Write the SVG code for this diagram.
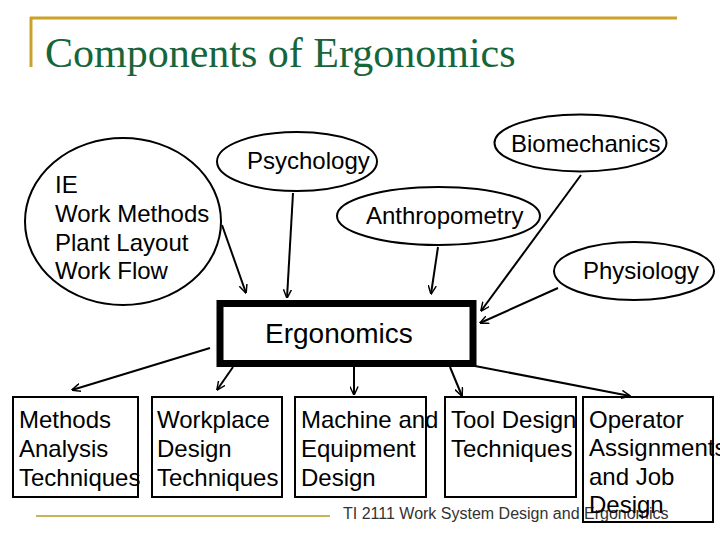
<svg xmlns="http://www.w3.org/2000/svg" width="720" height="540" viewBox="0 0 720 540">
<style>
.t{font-family:"Liberation Sans",Arial,sans-serif;font-size:24px;fill:#000}
.node{fill:#fff;stroke:#000;stroke-width:2}
.conn line{stroke:#000;stroke-width:2;marker-end:url(#ah)}
</style>
<defs>
<marker id="ah" viewBox="0 0 10 10" refX="9.5" refY="5" markerWidth="9" markerHeight="9" markerUnits="userSpaceOnUse" orient="auto">
<path d="M0,0.5 L10,5 L0,9.5" fill="none" stroke="#000" stroke-width="1.6"/>
</marker>
</defs>
<rect width="720" height="540" fill="#fff"/>
<g id="title">
<line x1="30" y1="18" x2="677" y2="18" stroke="#c9a227" stroke-width="3"/>
<line x1="31" y1="17" x2="31" y2="67" stroke="#c9a227" stroke-width="3"/>
<text x="45" y="67" font-family="'Liberation Serif','Times New Roman',serif" font-size="42" fill="#17653a">Components of Ergonomics</text>
</g>
<g id="n-ie"><ellipse class="node" cx="123" cy="221.5" rx="98" ry="83.5"/>
<text class="t" x="55" y="193">IE</text><text class="t" x="55" y="222">Work Methods</text><text class="t" x="55" y="250.5">Plant Layout</text><text class="t" x="55" y="279">Work Flow</text></g>
<g id="n-psych"><ellipse class="node" cx="297" cy="161.5" rx="80" ry="29.5"/><text class="t" x="247" y="169">Psychology</text></g>
<g id="n-biomech"><ellipse class="node" cx="580.5" cy="143" rx="86" ry="28.5"/><text class="t" x="511" y="151.5">Biomechanics</text></g>
<g id="n-anthro"><ellipse class="node" cx="438.5" cy="216" rx="101.5" ry="29"/><text class="t" x="366" y="223.5">Anthropometry</text></g>
<g id="n-physio"><ellipse class="node" cx="634" cy="271" rx="80" ry="29"/><text class="t" x="583" y="278.5">Physiology</text></g>
<g id="n-ergo"><rect x="220" y="303.5" width="253" height="60" fill="#fff" stroke="#000" stroke-width="7"/><text class="t" x="265" y="343" font-size="28" style="font-size:28px">Ergonomics</text></g>
<g id="n-methods"><rect class="node" x="13" y="397" width="125" height="100"/>
<text class="t" x="19" y="427.5">Methods</text><text class="t" x="19" y="456.5">Analysis</text><text class="t" x="19" y="485.5">Techniques</text></g>
<g id="n-workplace"><rect class="node" x="152" y="397" width="130" height="100"/>
<text class="t" x="157" y="427.5">Workplace</text><text class="t" x="157" y="456.5">Design</text><text class="t" x="157" y="485.5">Techniques</text></g>
<g id="n-machine"><rect class="node" x="295" y="397" width="131" height="100"/>
<text class="t" x="301" y="427.5">Machine and</text><text class="t" x="301" y="456.5">Equipment</text><text class="t" x="301" y="485.5">Design</text></g>
<g id="n-tool"><rect class="node" x="445" y="397" width="131" height="100"/>
<text class="t" x="451" y="427.5">Tool Design</text><text class="t" x="451" y="456.5">Techniques</text></g>
<g id="footer">
<line x1="36" y1="516" x2="330" y2="516" stroke="#c9b458" stroke-width="2"/>
<text x="343" y="518.5" font-family="'Liberation Sans',Arial,sans-serif" font-size="16" fill="#333">TI 2111 Work System Design and Ergonomics</text>
</g>
<g id="n-operator"><rect x="583" y="397" width="130" height="125" fill="none" stroke="#000" stroke-width="2"/>
<text class="t" x="589" y="427.5">Operator</text><text class="t" x="589" y="456">Assignments</text><text class="t" x="589" y="484.5">and Job</text><text class="t" x="589" y="512.5">Design</text></g>
<g id="connectors" class="conn">
<line x1="222" y1="225" x2="246" y2="293"/>
<line x1="293" y1="193" x2="287" y2="298"/>
<line x1="438" y1="247" x2="431" y2="294"/>
<line x1="581" y1="175" x2="481" y2="311"/>
<line x1="558" y1="288" x2="480" y2="323"/>
<line x1="210" y1="348" x2="72" y2="390"/>
<line x1="233" y1="367" x2="217" y2="390"/>
<line x1="354" y1="367" x2="354" y2="395"/>
<line x1="450" y1="367" x2="462" y2="396"/>
<line x1="475" y1="366" x2="630" y2="396"/>
</g>
</svg>
